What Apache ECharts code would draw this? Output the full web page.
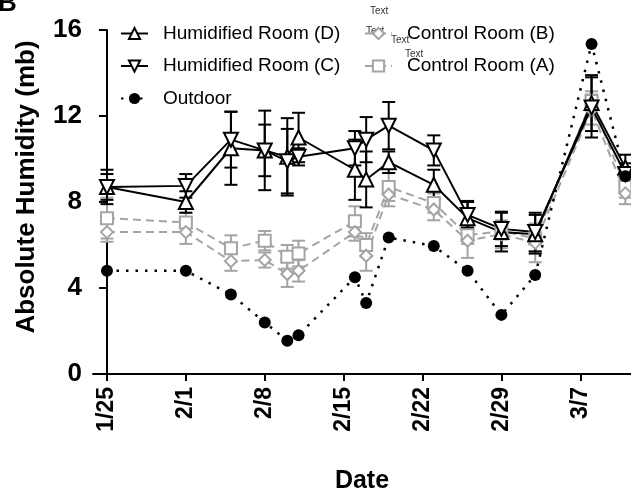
<!DOCTYPE html>
<html>
<head>
    <meta charset="utf-8">
    <title>Absolute Humidity</title>
    <script src="https://cdn.jsdelivr.net/npm/echarts@6/dist/echarts.min.js"></script>
</head>
<body style="margin:0;">
    <div id="main" style="width: 631px;height:499px;"></div>
    <script type="text/javascript">
        // days since 1/25
        var days = [0, 7, 11, 14, 16, 17, 22, 23, 25, 29, 32, 35, 38, 43, 46];
        var tickDays = [0, 7, 14, 21, 28, 35, 42];
        var tickLabels = ['1/25', '2/1', '2/8', '2/15', '2/22', '2/29', '3/7'];

        var roomD = [8.7, 8.0, 10.5, 10.4, 10.1, 11.0, 9.5, 9.05, 9.85, 8.8, 7.25, 6.6, 6.5, 12.6, 9.6];
        var roomDErr = [0.6, 0.5, 1.7, 1.85, 1.8, 1.15, 1.4, 1.3, 0.5, 0.7, 0.8, 0.9, 0.9, 1.3, 0.6];
        var roomC = [8.7, 8.75, 10.9, 10.4, 9.9, 10.1, 10.5, 10.9, 11.55, 10.4, 7.4, 6.75, 6.6, 12.4, 9.3];
        var roomCErr = [0.8, 0.55, 1.3, 1.2, 1.5, 0.4, 0.8, 1.05, 1.1, 0.7, 0.6, 0.8, 0.9, 1.4, 0.5];
        var roomB = [6.6, 6.6, 5.25, 5.3, 4.65, 4.8, 6.6, 5.5, 8.35, 7.65, 6.2, 6.5, 6.1, 12.3, 8.4];
        var roomBErr = [0.45, 0.55, 0.45, 0.35, 0.6, 0.5, 0.4, 0.7, 0.55, 0.5, 0.8, 0.65, 0.9, 0.7, 0.5];
        var roomA = [7.25, 7.05, 5.85, 6.2, 5.45, 5.6, 7.1, 6.0, 8.7, 7.95, 6.45, 6.65, 6.3, 12.7, 8.7];
        var roomAErr = [0.95, 0.45, 0.6, 0.45, 0.55, 0.6, 0.7, 0.55, 0.65, 0.45, 0.4, 0.4, 0.6, 0.45, 0.5];
        var outdoor = [4.8, 4.8, 3.7, 2.4, 1.55, 1.8, 4.5, 3.3, 6.35, 5.95, 4.8, 2.75, 4.6, 15.35, 9.2];

        var black = '#000';
        var gray = '#a4a4a4';
        var font = 'Liberation Sans, Arial, sans-serif';

        function pairs(vals) {
            return days.map(function (d, i) { return [d, vals[i]]; });
        }
        function bars(vals, errs) {
            return days.map(function (d, i) { return [d, vals[i] - errs[i], vals[i] + errs[i]]; });
        }
        function errRender(color) {
            return function (params, api) {
                var x = api.value(0);
                var lo = api.coord([x, api.value(1)]);
                var hi = api.coord([x, api.value(2)]);
                var w = 6.5;
                var st = { stroke: color, lineWidth: 2 };
                return {
                    type: 'group',
                    children: [
                        { type: 'line', shape: { x1: lo[0], y1: lo[1], x2: hi[0], y2: hi[1] }, style: st },
                        { type: 'line', shape: { x1: lo[0] - w, y1: lo[1], x2: lo[0] + w, y2: lo[1] }, style: st },
                        { type: 'line', shape: { x1: hi[0] - w, y1: hi[1], x2: hi[0] + w, y2: hi[1] }, style: st }
                    ]
                };
            };
        }
        function errSeries(vals, errs, color) {
            return {
                type: 'custom',
                renderItem: errRender(color),
                encode: { x: 0, y: [1, 2] },
                data: bars(vals, errs),
                silent: true,
                z: 1
            };
        }
        function lineSeries(name, vals, color, symbol, dash, rotate, filled) {
            return {
                name: name,
                type: 'line',
                data: pairs(vals),
                symbol: symbol,
                symbolSize: symbol === 'triangle' ? 14 : 12,
                symbolRotate: rotate || 0,
                lineStyle: { color: color, width: filled ? 2.5 : 2, type: dash },
                itemStyle: {
                    color: filled ? color : '#fff',
                    borderColor: color,
                    borderWidth: filled ? 0 : 2
                },
                z: 2
            };
        }
        function legendBox(names, left) {
            return {
                data: names,
                orient: 'vertical',
                left: left,
                top: 24,
                padding: 0,
                itemGap: 13.5,
                itemWidth: 27,
                itemHeight: 14,
                textStyle: { fontSize: 19, color: '#000', padding: [0, 0, 0, 10] }
            };
        }

        var myChart = echarts.init(document.getElementById('main'));
        var option = {
            animation: false,
            backgroundColor: '#fff',
            textStyle: { fontFamily: font },
            grid: { left: 93, right: 0, top: 30, bottom: 116 },
            legend: [
                legendBox(['Humidified Room (D)', 'Humidified Room (C)', 'Outdoor'], 120),
                legendBox(['Control Room (B)', 'Control Room (A)'], 364)
            ],
            xAxis: {
                type: 'value',
                min: -1.24,
                max: 46.5,
                name: 'Date',
                nameLocation: 'middle',
                nameGap: 95,
                nameTextStyle: { fontSize: 25, fontWeight: 'bold', color: '#000' },
                axisLine: { lineStyle: { color: black, width: 2 } },
                axisTick: { customValues: tickDays, length: 7, lineStyle: { color: black, width: 2 } },
                axisLabel: {
                    customValues: tickDays,
                    rotate: 90,
                    margin: 13,
                    fontSize: 23,
                    fontWeight: 'bold',
                    color: '#000',
                    formatter: function (v) { return tickLabels[tickDays.indexOf(Math.round(v))]; }
                },
                splitLine: { show: false }
            },
            yAxis: {
                type: 'value',
                min: 0,
                max: 16,
                interval: 4,
                name: 'Absolute Humidity (mb)',
                nameLocation: 'middle',
                nameGap: 53,
                nameTextStyle: { fontSize: 26, fontWeight: 'bold', color: '#000', padding: [0, 0, 0, 30] },
                axisLine: { show: true, lineStyle: { color: black, width: 2 } },
                axisTick: { show: true, length: 8, lineStyle: { color: black, width: 2 } },
                axisLabel: { fontSize: 26, fontWeight: 'bold', color: '#000', margin: 11 },
                splitLine: { show: false }
            },
            graphic: [
                { type: 'text', left: -2, top: -9, style: { text: 'B', font: 'bold 26px ' + font, fill: '#000' } },
                { type: 'text', x: 370, y: 6, style: { text: 'Text', font: '10px ' + font, fill: '#333' } },
                { type: 'text', x: 366, y: 26, style: { text: 'Text', font: '10px ' + font, fill: '#333' } },
                { type: 'text', x: 391, y: 35, style: { text: 'Text', font: '10px ' + font, fill: '#333' } },
                { type: 'text', x: 405, y: 49, style: { text: 'Text', font: '10px ' + font, fill: '#333' } }
            ],
            series: [
                errSeries(roomA, roomAErr, gray),
                errSeries(roomB, roomBErr, gray),
                errSeries(roomD, roomDErr, black),
                errSeries(roomC, roomCErr, black),
                lineSeries('Control Room (A)', roomA, gray, 'rect', [8, 5]),
                lineSeries('Control Room (B)', roomB, gray, 'diamond', [8, 5]),
                lineSeries('Humidified Room (D)', roomD, black, 'triangle', 'solid'),
                lineSeries('Humidified Room (C)', roomC, black, 'triangle', 'solid', 180),
                lineSeries('Outdoor', outdoor, black, 'circle', [2.5, 7], 0, true)
            ]
        };
        myChart.setOption(option);
    </script>
</body>
</html>
